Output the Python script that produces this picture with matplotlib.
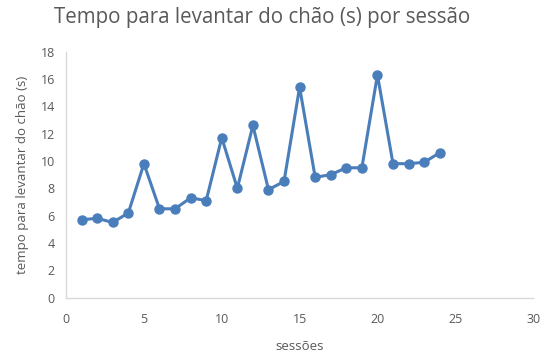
import matplotlib
matplotlib.use('Agg')
import matplotlib.pyplot as plt

sessoes = [1, 2, 3, 4, 5, 6, 7, 8, 9, 10, 11, 12, 13, 14, 15, 16, 17, 18, 19, 20, 21, 22, 23, 24]
tempo = [5.7, 5.8, 5.5, 6.2, 9.8, 6.5, 6.5, 7.3, 7.1, 11.7, 8.0, 12.6, 7.9, 8.5,
         15.4, 8.8, 9.0, 9.5, 9.5, 16.3, 9.8, 9.8, 9.9, 10.6]

x_ticks = [0, 5, 10, 15, 20, 25, 30]
y_ticks = [0, 2, 4, 6, 8, 10, 12, 14, 16, 18]

plt.rcParams['font.family'] = ['Open Sans', 'DejaVu Sans']
txt = '#595959'

fig = plt.figure(figsize=(5.6, 3.56), dpi=100)
ax = fig.add_axes([0.118, 0.164, 0.834, 0.691])

ax.plot(sessoes, tempo, color='#4A7EBB', linewidth=2.2, marker='o',
        markersize=6.5, clip_on=False)

ax.set_xlim(0, 30)
ax.set_ylim(0, 18)
ax.set_xticks(x_ticks)
ax.set_yticks(y_ticks)

for s in ['top', 'right']:
    ax.spines[s].set_visible(False)
for s in ['left', 'bottom']:
    ax.spines[s].set_color('#d9d9d9')
    ax.spines[s].set_linewidth(1.0)

ax.tick_params(axis='x', length=0, labelsize=9, labelcolor=txt, pad=11)
ax.tick_params(axis='y', length=0, labelsize=9, labelcolor=txt, pad=8)

# title sits centred over the whole chart, not the plot area
fig.text(262 / 560, 1 - 18 / 356, 'Tempo para levantar do chão (s) por sessão',
         fontsize=14.8, color=txt, ha='center', va='center')
ax.set_xlabel('sessões', fontsize=9.5, color=txt, labelpad=10)
ax.set_ylabel('tempo para levantar do chão (s)', fontsize=9.5, color=txt, labelpad=8)

fig.savefig('out.png', dpi=100)
